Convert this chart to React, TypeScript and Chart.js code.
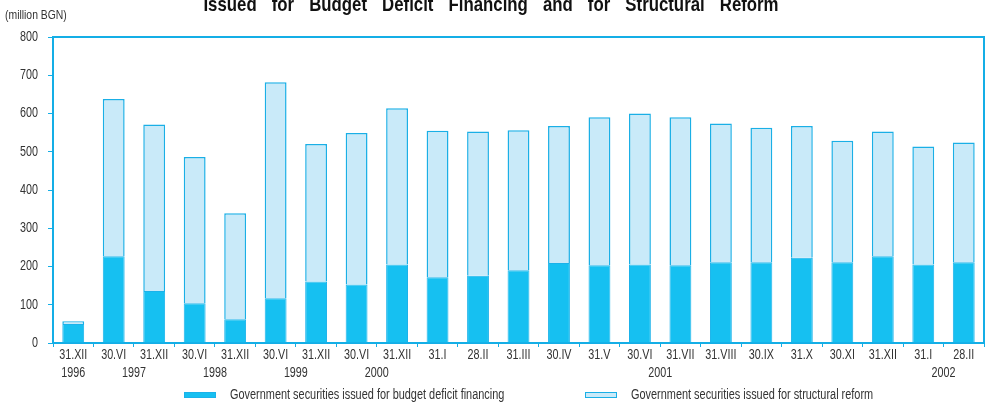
import React, { useEffect, useRef } from "react";
import { Chart, registerables } from "chart.js";

Chart.register(...registerables);

const categories = [
  "31.XII", "30.VI", "31.XII", "30.VI", "31.XII", "30.VI", "31.XII", "30.VI", "31.XII",
  "31.I", "28.II", "31.III", "30.IV", "31.V", "30.VI", "31.VII", "31.VIII", "30.IX",
  "31.X", "30.XI", "31.XII", "31.I", "28.II",
];
const budgetDeficit = [50, 227, 136, 104, 62, 117, 161, 153, 205, 172, 176, 190, 209, 203, 205, 203, 211, 211, 223, 211, 227, 205, 211];
const structuralReform = [7, 411, 435, 382, 277, 565, 359, 396, 409, 383, 377, 366, 358, 387, 395, 387, 363, 352, 344, 318, 326, 309, 313];
const yearLabels = ["1996", "1997", "1998", "1999", "2000", "2001", "2002"];
const yearCategoryPos = [0, 1.5, 3.5, 5.5, 7.5, 14.5, 21.5];
const yTicks = [0, 100, 200, 300, 400, 500, 600, 700, 800];
const seriesNames = [
  "Government securities issued for budget deficit financing",
  "Government securities issued for structural reform",
];
const titleText = "Issued for Budget Deficit Financing and for Structural Reform";
const unitText = "(million BGN)";

const FONT = '"Liberation Sans", Arial, sans-serif';
const AXIS = "#14aee6";
const DARK = "#16c0f1";
const LIGHT = "#c9eaf9";
const TEXT = "#333333";
const NARROW = 0.77;

function narrowText(ctx: any, text: string, x: number, y: number, align: string, font: string, sx: number) {
  ctx.save();
  ctx.translate(x, y);
  ctx.scale(sx, 1);
  ctx.font = font;
  ctx.textAlign = align;
  ctx.fillText(text, 0, 0);
  ctx.restore();
}

const decorPlugin = {
  id: "decor",
  afterDraw(chart: any) {
    const ctx = chart.ctx;
    const { left, right, top, bottom } = chart.chartArea;
    ctx.save();
    // frame top/right
    ctx.strokeStyle = AXIS;
    ctx.lineWidth = 2;
    ctx.beginPath();
    ctx.moveTo(left, top);
    ctx.lineTo(right, top);
    ctx.lineTo(right, bottom);
    ctx.stroke();

    // title (cut at top)
    ctx.fillStyle = "#111";
    ctx.textBaseline = "alphabetic";
    ctx.save();
    ctx.translate(491, 11);
    ctx.scale(0.8, 1);
    ctx.font = `bold 21px ${FONT}`;
    ctx.textAlign = "center";
    try {
      ctx.wordSpacing = "13px";
    } catch (e) {}
    ctx.fillText(titleText, 0, 0);
    ctx.restore();

    ctx.fillStyle = TEXT;
    ctx.textBaseline = "middle";
    // unit
    narrowText(ctx, unitText, 5, 15, "left", `13px ${FONT}`, 0.8);

    // y tick labels
    const ys = chart.scales.y;
    yTicks.forEach((v) => {
      narrowText(ctx, String(v), left - 15, ys.getPixelForValue(v), "right", `14px ${FONT}`, NARROW);
    });

    // x tick labels
    const xs = chart.scales.x;
    categories.forEach((c, i) => {
      narrowText(ctx, c, xs.getPixelForValue(i), 355, "center", `14px ${FONT}`, NARROW);
    });

    // year labels
    yearLabels.forEach((y, i) => {
      narrowText(ctx, y, xs.getPixelForValue(yearCategoryPos[i]), 373, "center", `14px ${FONT}`, NARROW);
    });

    // legend
    const ds = chart.data.datasets;
    const boxX = [184, 585];
    ds.forEach((d: any, i: number) => {
      ctx.fillStyle = d.backgroundColor;
      ctx.fillRect(boxX[i], 392, 32, 6);
      ctx.strokeStyle = d.borderColor;
      ctx.lineWidth = 1;
      ctx.strokeRect(boxX[i] + 0.5, 392.5, 31, 5);
      ctx.fillStyle = TEXT;
      narrowText(ctx, d.label, boxX[i] + 46, 395, "left", `14px ${FONT}`, 0.78);
    });
    ctx.restore();
  },
};

export default function App() {
  const ref = useRef<HTMLCanvasElement | null>(null);
  useEffect(() => {
    document.body.style.margin = "0";
    const chart = new Chart(ref.current as HTMLCanvasElement, {
      type: "bar",
      data: {
        labels: categories,
        datasets: [
          {
            label: seriesNames[0],
            data: budgetDeficit,
            backgroundColor: DARK,
            borderColor: "#1ab2ea",
            borderWidth: 1,
            barPercentage: 0.54,
            categoryPercentage: 1,
          },
          {
            label: seriesNames[1],
            data: structuralReform,
            backgroundColor: LIGHT,
            borderColor: "#1aafe6",
            borderWidth: 1.5,
            barPercentage: 0.54,
            categoryPercentage: 1,
          },
        ],
      },
      options: {
        animation: false,
        responsive: false,
        maintainAspectRatio: false,
        layout: { padding: { top: 37, right: 3, left: 0, bottom: 0 } },
        plugins: { legend: { display: false }, tooltip: { enabled: false }, title: { display: false } },
        scales: {
          x: {
            stacked: true,
            grid: { drawOnChartArea: false, drawTicks: true, tickLength: 4, color: AXIS, offset: true },
            border: { color: AXIS, width: 2 },
            ticks: { display: false },
            afterFit(scale: any) {
              scale.height = 61;
            },
          },
          y: {
            stacked: true,
            min: 0,
            max: 800,
            afterBuildTicks(scale: any) {
              scale.ticks = yTicks.map((v) => ({ value: v }));
            },
            grid: { drawOnChartArea: false, drawTicks: true, tickLength: 5, color: AXIS },
            border: { color: AXIS, width: 2 },
            ticks: { display: false },
            afterFit(scale: any) {
              scale.width = 53;
            },
          },
        },
      },
      plugins: [decorPlugin],
    } as any);
    return () => chart.destroy();
  }, []);
  return <canvas ref={ref} width={987} height={404} style={{ display: "block" }} />;
}
